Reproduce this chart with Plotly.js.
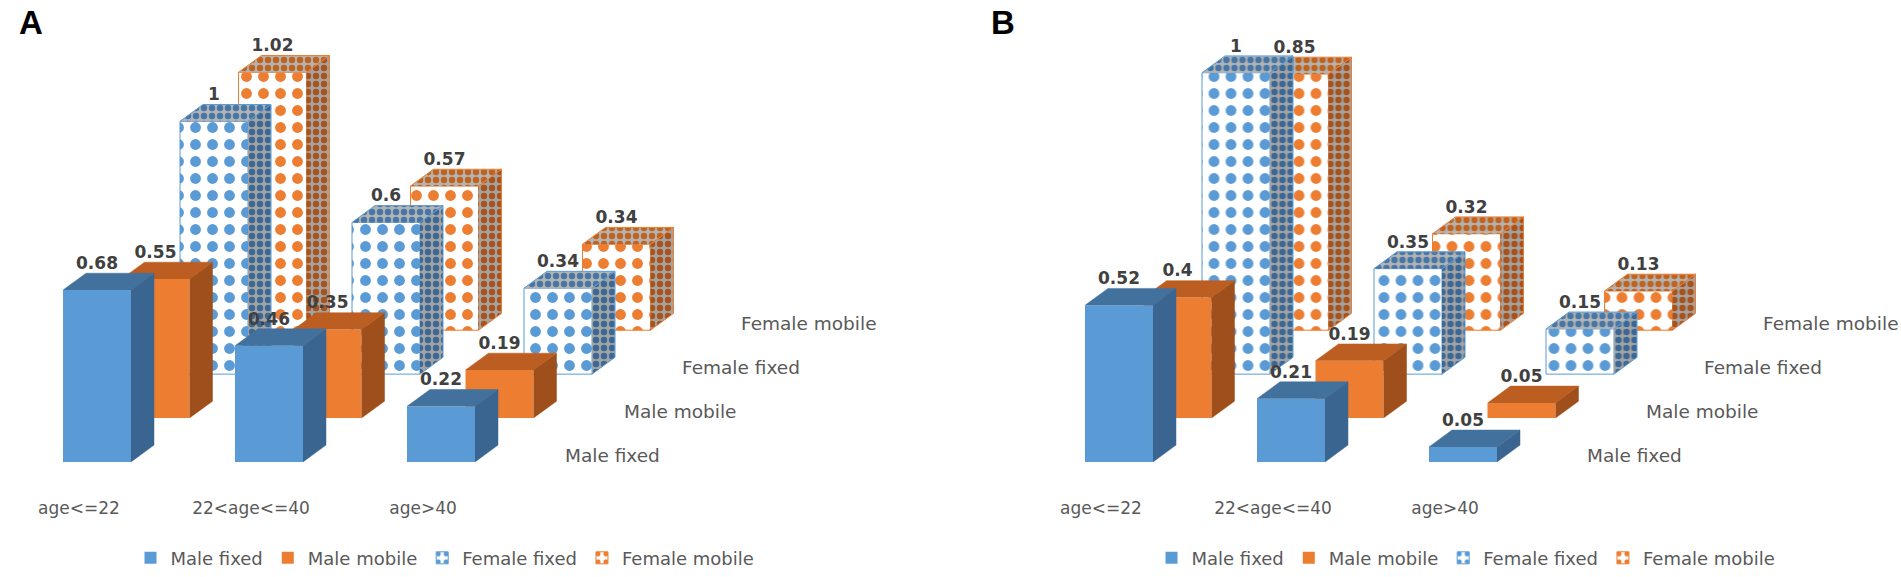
<!DOCTYPE html>
<html>
<head>
<meta charset="utf-8">
<script src="https://cdn.plot.ly/plotly-3.0.1.min.js"></script>
<style>html,body{margin:0;padding:0;background:#fff;overflow:hidden}</style>
</head>
<body>
<div id="myGraph" style="width:1901px;height:577px"></div>
<script>
let myGraph = document.getElementById('myGraph');

// categories / series
let categories = ["age<=22", "22<age<=40", "age>40"];
let seriesNames = ["Male fixed", "Male mobile", "Female fixed", "Female mobile"];

// panel A values
let maleFixedA = [0.68, 0.46, 0.22];
let maleMobileA = [0.55, 0.35, 0.19];
let femaleFixedA = [1, 0.6, 0.34];
let femaleMobileA = [1.02, 0.57, 0.34];

// panel B values
let maleFixedB = [0.52, 0.21, 0.05];
let maleMobileB = [0.4, 0.19, 0.05];
let femaleFixedB = [1, 0.35, 0.15];
let femaleMobileB = [0.85, 0.32, 0.13];

// page geometry (pixels)
const W = 1901, H = 577;
const bottomPx = 497;          // bottom of the plotting area
const catStep = 172;           // px between categories
const rowDx = 58.5, rowDy = 44.3; // depth shift between series rows
const halfW = 34;              // half width of a front face
const sideDx = 23, sideDy = 17; // depth of a single box

let panels = [
  { series: [maleFixedA, maleMobileA, femaleFixedA, femaleMobileA], legend: 'legend',
    axis0: 1, left: 0, right: 950.5, center0: 97, basePx: 466, scale: 255 },
  { series: [maleFixedB, maleMobileB, femaleFixedB, femaleMobileB], legend: 'legend2',
    axis0: 5, left: 950.5, right: 1901, center0: 1119, basePx: 466, scale: 304 },
];

// colours of each series: front, top, side
let styles = [
  { front: '#5B9BD5', top: '#43719D', side: '#3A6590', pattern: false },
  { front: '#ED7D31', top: '#BC5E21', side: '#9F4F1B', pattern: false },
  { front: '#5B9BD5', top: '#4677A6', side: '#3B6895', pattern: true, line: '#5B9BD5' },
  { front: '#ED7D31', top: '#C0631F', side: '#A9521A', pattern: true, line: '#ED7D31' },
];

let fontMain = 'DejaVu Sans, Liberation Sans, sans-serif';
let data = [];
let annotations = [];
let layout = {
  width: W,
  height: H,
  margin: { l: 0, r: 0, t: 0, b: 0 },
  paper_bgcolor: '#ffffff',
  plot_bgcolor: '#ffffff',
  barmode: 'overlay',
  showlegend: true,
};

panels.forEach(p => {
  let hw = halfW / catStep;
  let sdx = sideDx / catStep;
  let sdy = sideDy / p.scale;

  // back row first, so front rows are drawn over it
  for (let j = 3; j >= 0; j--) {
    let n = p.axis0 + (3 - j);
    let xa = n === 1 ? 'x' : 'x' + n;
    let ya = n === 1 ? 'y' : 'y' + n;
    let vals = p.series[j];
    let st = styles[j];
    let idx = vals.map((v, i) => i);

    // axes for this row, shifted so that the row sits further back
    let shiftX = p.center0 + rowDx * j;
    let basePy = p.basePx - rowDy * j;
    let xaxis = {
      domain: [p.left / W, p.right / W],
      range: [(p.left - shiftX) / catStep, (p.right - shiftX) / catStep],
      anchor: ya,
      visible: false,
      showgrid: false,
      zeroline: false,
      fixedrange: true,
    };
    let yaxis = {
      domain: [(H - bottomPx) / H, 1],
      range: [(basePy - bottomPx) / p.scale, basePy / p.scale],
      anchor: xa,
      visible: false,
      showgrid: false,
      zeroline: false,
      fixedrange: true,
    };
    if (n !== p.axis0) {
      xaxis.overlaying = p.axis0 === 1 ? 'x' : 'x' + p.axis0;
      yaxis.overlaying = p.axis0 === 1 ? 'y' : 'y' + p.axis0;
    }
    if (j === 0) {
      // category labels under the front row
      Object.assign(xaxis, {
        visible: true,
        showline: false,
        ticks: '',
        tickmode: 'array',
        tickvals: idx,
        ticktext: categories,
        ticklabelshift: -18,
        ticklabelstandoff: 3,
        tickfont: { family: fontMain, size: 17, color: '#595959' },
      });
    }
    layout['xaxis' + (n === 1 ? '' : n)] = xaxis;
    layout['yaxis' + (n === 1 ? '' : n)] = yaxis;

    // front face
    let marker = st.pattern ? {
      color: '#ffffff',
      line: { color: st.line, width: 1 },
      pattern: { shape: '.', fgcolor: st.front, bgcolor: '#ffffff', size: 17, solidity: 0.32, fillmode: 'replace' },
    } : {
      color: st.front,
      line: { width: 0 },
    };
    data.push({
      type: 'bar',
      x: idx,
      y: vals,
      base: 0,
      width: 2 * hw,
      xaxis: xa,
      yaxis: ya,
      name: seriesNames[j],
      legend: p.legend,
      legendrank: j + 1,
      marker: marker,
      hoverinfo: 'skip',
    });

    // side and top faces
    let sideX = [], sideY = [], topX = [], topY = [];
    vals.forEach((v, i) => {
      sideX.push(i + hw, i + hw + sdx, i + hw + sdx, i + hw, null);
      sideY.push(0, sdy, v + sdy, v, null);
      topX.push(i - hw, i - hw + sdx, i + hw + sdx, i + hw, null);
      topY.push(v, v + sdy, v + sdy, v, null);
    });
    [[sideX, sideY, st.side, '#A3A3A3'], [topX, topY, st.top, '#B3B3B3']].forEach(f => {
      let tr = {
        type: 'scatter',
        mode: 'lines',
        x: f[0],
        y: f[1],
        xaxis: xa,
        yaxis: ya,
        fill: 'toself',
        fillcolor: f[2],
        line: { color: st.pattern ? st.line : f[2], width: st.pattern ? 1 : 0.5 },
        showlegend: false,
        hoverinfo: 'skip',
      };
      if (st.pattern) {
        tr.fillcolor = f[3];
        tr.fillpattern = { shape: '.', fgcolor: f[2], bgcolor: f[3], size: 8, solidity: 0.5, fillmode: 'replace' };
      }
      data.push(tr);
    });

    // value labels
    data.push({
      type: 'scatter',
      mode: 'text',
      x: idx,
      y: vals.map(v => v + sdy),
      text: vals.map(v => String(v)),
      textposition: 'top center',
      textfont: { family: fontMain, size: 17, color: '#404040', weight: 'bold' },
      xaxis: xa,
      yaxis: ya,
      showlegend: false,
      hoverinfo: 'skip',
      cliponaxis: false,
    });

    // series name at the end of the row
    annotations.push({
      xref: xa,
      yref: ya,
      x: 2.71,
      y: 7 / p.scale,
      xanchor: 'left',
      yanchor: 'middle',
      text: seriesNames[j],
      showarrow: false,
      font: { family: fontMain, size: 18.5, color: '#595959' },
    });
  }
});

// panel letters
annotations.push({ xref: 'paper', yref: 'paper', x: 17 / W, y: 1 - 23 / H, xanchor: 'left', yanchor: 'middle',
  text: '<b>A</b>', showarrow: false, font: { family: 'Liberation Sans, Arial, sans-serif', size: 33, color: '#000000' } });
annotations.push({ xref: 'paper', yref: 'paper', x: 989 / W, y: 1 - 23 / H, xanchor: 'left', yanchor: 'middle',
  text: '<b>B</b>', showarrow: false, font: { family: 'Liberation Sans, Arial, sans-serif', size: 33, color: '#000000' } });

layout.annotations = annotations;

let legendStyle = {
  orientation: 'h',
  xanchor: 'center',
  y: (H - 563) / H,
  yanchor: 'middle',
  bgcolor: 'rgba(0,0,0,0)',
  font: { family: fontMain, size: 18, color: '#595959' },
  itemwidth: 30,
};
layout.legend = Object.assign({}, legendStyle, { x: 445 / W });
layout.legend2 = Object.assign({}, legendStyle, { x: 1466 / W });

Plotly.newPlot(myGraph, data, layout, { staticPlot: true, displayModeBar: false });
</script>
</body>
</html>
